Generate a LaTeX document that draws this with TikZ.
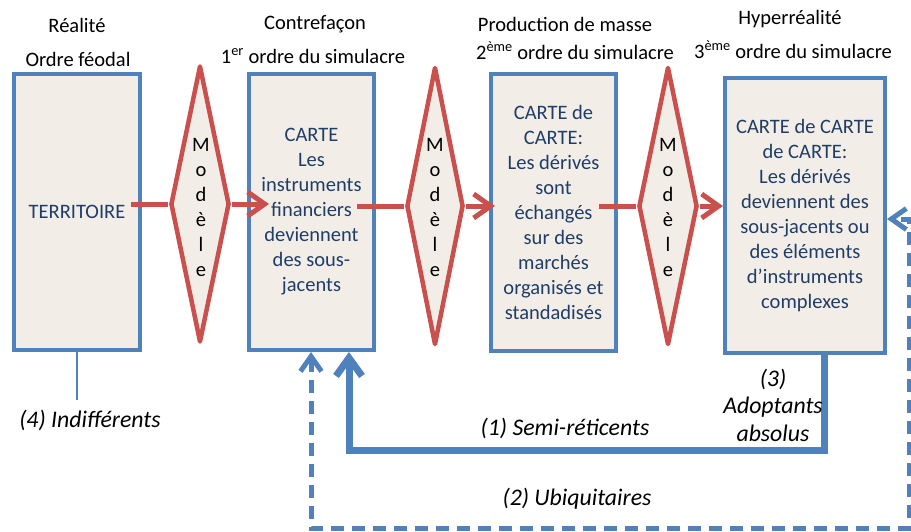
\documentclass[tikz,border=0pt]{standalone}
\usepackage{fontspec}
\setmainfont{Carlito}
\usetikzlibrary{shapes.geometric,arrows.meta}
\definecolor{boxblue}{HTML}{4F81BD}
\definecolor{boxfill}{HTML}{F2EEE7}
\definecolor{modred}{HTML}{C9504D}
\definecolor{txtblue}{HTML}{1F3D66}
\begin{document}
\begin{tikzpicture}[x=1pt,y=-1pt,
  box/.style={draw=boxblue, line width=4pt, fill=boxfill, text=txtblue, align=center,
    inner sep=0pt, font=\fontsize{20.5}{25}\selectfont},
  diam/.style={diamond, draw=modred, line width=4.5pt, line join=round, fill=boxfill, inner sep=0pt},
  modtext/.style={align=center, font=\fontsize{20.5}{25}\selectfont, text=black},
  redarrow/.style={draw=modred, line width=5pt},
  redtip/.style={redarrow, -{Straight Barb[length=17pt,width=24pt]}},
  toplabel/.style={anchor=base, font=\fontsize{20.5}{25}\selectfont},
  itlabel/.style={anchor=base, font=\fontsize{23.8}{27}\selectfont\itshape},
  solidblue/.style={draw=boxblue, line width=7pt, -{Straight Barb[length=18pt,width=26pt]}},
  dashblue/.style={draw=boxblue, line width=5pt, dash pattern=on 13pt off 8pt,
    {Straight Barb[length=15pt,width=21pt]}-{Straight Barb[length=15pt,width=21pt]}},
  thinblue/.style={draw=boxblue, line width=1.5pt}
]
\useasboundingbox (0,0) rectangle (911,531);

% top labels
\node[toplabel] (l1a) at (77,32) {Réalité};
\node[toplabel] (l1b) at (78,66) {Ordre féodal};
\node[toplabel] (l2a) at (315,29) {Contrefaçon};
\node[toplabel] (l2b) at (313,63) {1\textsuperscript{er} ordre du simulacre};
\node[toplabel] (l3a) at (565,31) {Production de masse};
\node[toplabel] (l3b) at (575,59) {2\textsuperscript{ème} ordre du simulacre};
\node[toplabel] (l4a) at (790,24) {Hyperréalité};
\node[toplabel] (l4b) at (793,58) {3\textsuperscript{ème} ordre du simulacre};

% boxes
\node[box, minimum width=126pt, minimum height=276pt] (b1) at (77,212) {TERRITOIRE};
\node[box, minimum width=125pt, minimum height=276pt] (b2) at (311.5,212) {CARTE\\Les\\instruments\\financiers\\deviennent\\des sous-\\jacents};
\node[box, minimum width=125pt, minimum height=277pt] (b3) at (553.5,212.5) {CARTE de\\CARTE:\\Les dérivés\\sont\\échangés\\sur des\\marchés\\organisés et\\standadisés};
\node[box, minimum width=160pt, minimum height=275pt] (b4) at (805,215.5) {CARTE de CARTE\\de CARTE:\\Les dérivés\\deviennent des\\sous-jacents ou\\des éléments\\d’instruments\\complexes};

% diamonds
\node[diam, minimum width=59pt, minimum height=277pt] (d1) at (200,204) {};
\node[diam, minimum width=57pt, minimum height=278pt] (d2) at (435,206) {};
\node[diam, minimum width=59pt, minimum height=278pt] (d3) at (668,206) {};

% red arrows
\coordinate (s1) at (131,204);
\coordinate (t1) at (269,204);
\coordinate (s2) at (357,206);
\coordinate (t2) at (495,206);
\coordinate (s3) at (599,206);
\draw[redarrow] (s1) -- (d1.west);
\draw[redtip] (d1.east) -- (t1);
\draw[redarrow] (s2) -- (d2.west);
\draw[redtip] (d2.east) -- (t2);
\draw[redarrow] (s3) -- (d3.west);
\draw[redtip] (d3.east) -- (b4.west |- d3.east);

% Modèle texts
\node[modtext] (m1) at (201,207) {M\\o\\d\\è\\l\\e};
\node[modtext] (m2) at (435,207) {M\\o\\d\\è\\l\\e};
\node[modtext] (m3) at (668,207) {M\\o\\d\\è\\l\\e};

% blue connectors
\coordinate (r1) at (824,450);
\coordinate (r2) at (349,450);
\draw[solidblue] (b4.south -| r1) -- (r1) -- (r2) -- (b2.south -| r2);

\coordinate (q1) at (311,528);
\coordinate (q2) at (909,528);
\coordinate (q3) at (909,219);
\draw[dashblue] (b2.south -| q1) -- (q1) -- (q2) -- (q3) -- (b4.east |- q3);

\coordinate (f1) at (77,400);
\draw[thinblue] (b1.south) -- (f1);

% italic labels
\node[itlabel] (i4) at (90,427) {(4) Indifférents};
\node[itlabel] (i1) at (565,435) {(1) Semi-réticents};
\node[align=center, font=\fontsize{23.8}{27.5}\selectfont\itshape] (i3) at (773,405) {(3)\\Adoptants\\absolus};
\node[itlabel] (i2) at (577,505) {(2) Ubiquitaires};
\end{tikzpicture}
\end{document}
